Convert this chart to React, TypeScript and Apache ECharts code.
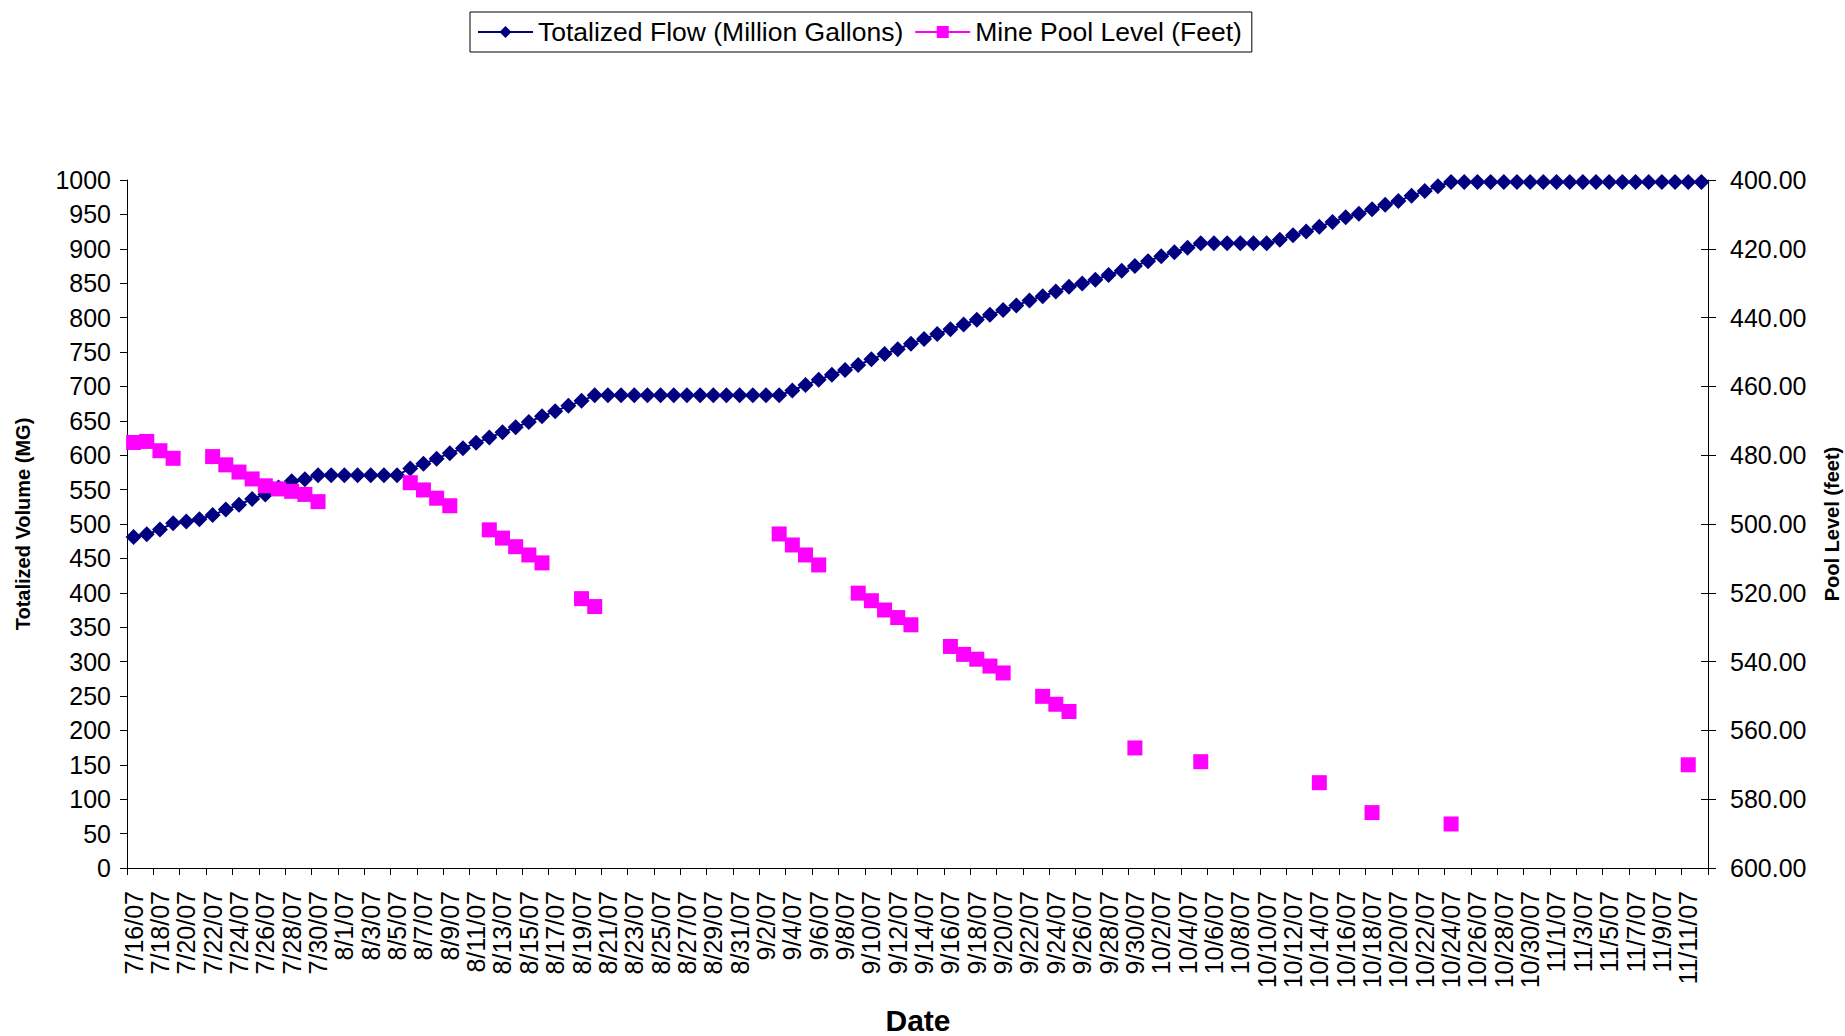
import React, { useEffect, useRef } from "react";
import * as echarts from "echarts";

// Daily categories 7/16/07 .. 11/12/07
const START_DATE = [2007, 6, 16];
const DAY_COUNT = 120;
const CATEGORIES: string[] = (() => {
  const out: string[] = [];
  const d = new Date(START_DATE[0], START_DATE[1], START_DATE[2]);
  for (let k = 0; k < DAY_COUNT; k++) {
    out.push(`${d.getMonth() + 1}/${d.getDate()}/07`);
    d.setDate(d.getDate() + 1);
  }
  return out;
})();

const FLOW_NAME = "Totalized Flow (Million Gallons)";
const POOL_NAME = "Mine Pool Level (Feet)";

// Totalized flow, million gallons (left axis)
const TOTALIZED_FLOW = [
  481, 485, 492, 501, 503.5, 507, 513, 521, 528, 536.5, 543, 553, 562, 565, 571,
  571, 571, 571, 571, 571, 571,
  580.6, 587.4, 595, 603, 610, 618, 625.6, 633.4, 640.7, 648.2, 656.5, 664, 671.7, 679,
  687, 687, 687, 687, 687, 687, 687, 687, 687, 687, 687, 687, 687, 687, 687,
  694, 702, 709.5, 717, 724,
  731, 739.5, 747, 754, 762,
  769, 776, 783, 790, 797, 804, 811, 817.5, 825, 831, 838, 845, 849.5, 855, 862, 868, 875, 882, 889, 895, 901.5,
  908, 908, 908, 908, 908, 908,
  913, 919.6, 925, 932, 939, 946, 951, 957.6, 964, 969.6, 977, 984, 991,
  997, 997, 997, 997, 997, 997, 997, 997, 997, 997,
  997, 997, 997, 997, 997, 997, 997, 997, 997, 997,
];

// Mine pool level, feet (right axis, inverted); null = no reading
const POOL_LEVEL: (number | null)[] = [
  476.3, 476.0, 478.7, 480.9,
  null, null,
  480.4, 482.8, 484.9, 486.9, 488.9, 489.8, 490.5, 491.4, 493.5,
  null, null, null, null, null, null,
  488.0, 490.1, 492.5, 494.7,
  null, null,
  501.7, 504.1, 506.6, 509.0, 511.3,
  null, null,
  521.7, 524.0,
  null, null, null, null, null, null, null, null, null, null, null, null, null,
  502.9, 506.1, 509.0, 511.9,
  null, null,
  520.1, 522.3, 525.0, 527.2, 529.3,
  null, null,
  535.6, 537.9, 539.3, 541.3, 543.3,
  null, null,
  550.1, 552.4, 554.5,
  null, null, null, null,
  565.1,
  null, null, null, null,
  569.1,
  null, null, null, null, null, null, null, null,
  575.2,
  null, null, null,
  583.9,
  null, null, null, null, null,
  587.2,
  null, null, null, null, null, null, null, null, null, null, null, null, null, null, null, null, null,
  570.0,
  null,
];

const FONT = '"Liberation Sans", Arial, Helvetica, sans-serif';

export default function App() {
  const ref = useRef<HTMLDivElement>(null);

  useEffect(() => {
    if (!ref.current) return;
    const chart = echarts.init(ref.current, null, { renderer: "svg" });
    const axisLineStyle = { color: "#000", width: 1 };
    chart.setOption({
      animation: false,
      backgroundColor: "#fff",
      textStyle: { fontFamily: FONT, color: "#000" },
      legend: {
        left: 470,
        top: 12,
        orient: "horizontal",
        padding: [5, 10, 5, 7],
        borderColor: "#000",
        borderWidth: 1,
        itemWidth: 55,
        itemHeight: 15,
        itemGap: 11,
        textStyle: { fontSize: 26.5, fontFamily: FONT, color: "#000", lineHeight: 30 },
        data: [FLOW_NAME, POOL_NAME],
      },
      grid: {
        left: 127,
        right: 137,
        top: 180,
        bottom: 168,
        containLabel: false,
        outerBoundsMode: "none",
      },
      xAxis: {
        type: "category",
        data: CATEGORIES,
        boundaryGap: true,
        axisLine: { show: true, lineStyle: axisLineStyle },
        axisTick: { show: true, interval: 1, length: 7, lineStyle: axisLineStyle },
        axisLabel: {
          interval: 1,
          rotate: 90,
          margin: 23,
          fontSize: 25,
          fontFamily: FONT,
          color: "#000",
        },
        splitLine: { show: false },
      },
      yAxis: [
        {
          type: "value",
          position: "left",
          min: 0,
          max: 1000,
          interval: 50,
          axisLine: { show: true, lineStyle: axisLineStyle },
          axisTick: { show: true, length: 7, lineStyle: axisLineStyle },
          axisLabel: {
            fontSize: 25,
            fontFamily: FONT,
            color: "#000",
            margin: 16,
            formatter: (v: number) => String(v),
          },
          splitLine: { show: false },
        },
        {
          type: "value",
          position: "right",
          min: 400,
          max: 600,
          interval: 20,
          inverse: true,
          axisLine: { show: true, lineStyle: axisLineStyle },
          axisTick: { show: true, length: 8, lineStyle: axisLineStyle },
          axisLabel: {
            fontSize: 25,
            fontFamily: FONT,
            color: "#000",
            margin: 22,
            formatter: (v: number) => v.toFixed(2),
          },
          splitLine: { show: false },
        },
        {
          type: "value",
          position: "right",
          min: 400,
          max: 600,
          interval: 20,
          inverse: true,
          axisLine: { show: false },
          axisTick: { show: true, inside: true, length: 7, lineStyle: axisLineStyle },
          axisLabel: { show: false },
          splitLine: { show: false },
        },
      ],
      graphic: [
        {
          type: "text",
          x: 23,
          y: 524,
          rotation: Math.PI / 2,
          style: {
            text: "Totalized Volume (MG)",
            fontSize: 20,
            fontWeight: "bold",
            fontFamily: FONT,
            fill: "#000",
            align: "center",
            verticalAlign: "middle",
          },
        },
        {
          type: "text",
          x: 1832,
          y: 524,
          rotation: Math.PI / 2,
          style: {
            text: "Pool Level (feet)",
            fontSize: 20,
            fontWeight: "bold",
            fontFamily: FONT,
            fill: "#000",
            align: "center",
            verticalAlign: "middle",
          },
        },
        {
          type: "text",
          x: 918,
          y: 1020,
          style: {
            text: "Date",
            fontSize: 30,
            fontWeight: "bold",
            fontFamily: FONT,
            fill: "#000",
            align: "center",
            verticalAlign: "middle",
          },
        },
      ],
      series: [
        {
          name: FLOW_NAME,
          type: "line",
          yAxisIndex: 0,
          data: TOTALIZED_FLOW,
          symbol: "diamond",
          symbolSize: 16,
          showAllSymbol: true,
          color: "#000080",
          itemStyle: { color: "#000080" },
          lineStyle: { color: "#000080", width: 2 },
          z: 2,
        },
        {
          name: POOL_NAME,
          type: "line",
          yAxisIndex: 1,
          data: POOL_LEVEL,
          connectNulls: false,
          symbol: "rect",
          symbolSize: 15,
          showAllSymbol: true,
          color: "#FF00FF",
          itemStyle: { color: "#FF00FF" },
          lineStyle: { color: "#FF00FF", width: 2 },
          z: 3,
        },
      ],
    });
    return () => chart.dispose();
  }, []);

  return (
    <div
      ref={ref}
      style={{ position: "fixed", left: 0, top: 0, width: 1845, height: 1036, background: "#fff" }}
    />
  );
}
